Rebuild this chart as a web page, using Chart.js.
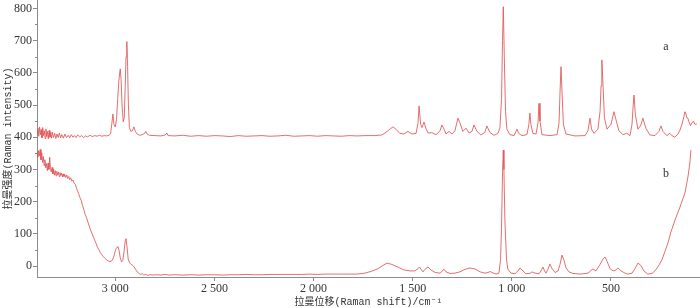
<!DOCTYPE html>
<html lang="zh">

<head>
  <meta charset="UTF-8">
  <script src="https://cdn.jsdelivr.net/npm/chart.js@4.4.1/dist/chart.umd.min.js"></script>
  <title>Raman spectra</title>
  <style>
    body { margin: 0; background: #fff; }
  </style>
</head>

<body>
  <canvas id="myChart" width="700" height="308"></canvas>
  <script>
    // spectrum a: Raman shift (cm-1) and intensity
    const shiftA = [
      3395, 3390, 3386, 3382, 3378, 3374, 3370, 3366, 3362, 3358, 3354, 3350, 3346, 3342, 3338, 3334, 3330, 3326, 3322, 3318,
      3312, 3306, 3300, 3294, 3288, 3282, 3276, 3270, 3262, 3254, 3246, 3238, 3230, 3222, 3214, 3206, 3198, 3190, 3180, 3170,
      3160, 3150, 3140, 3128, 3116, 3104, 3092, 3080, 3068, 3056, 3044, 3032, 3024, 3018, 3012, 3007, 3000, 2994, 2988, 2982,
      2978, 2975, 2971, 2966, 2960, 2955, 2950, 2946, 2942, 2938, 2934, 2929, 2922, 2914, 2906, 2899, 2890, 2878, 2864, 2852,
      2846, 2840, 2828, 2800, 2770, 2748, 2740, 2734, 2700, 2660, 2620, 2580, 2540, 2500, 2460, 2420, 2380, 2340, 2300, 2260,
      2220, 2180, 2140, 2100, 2060, 2020, 1980, 1940, 1900, 1860, 1820, 1780, 1740, 1691, 1656, 1635, 1615, 1600, 1585, 1565,
      1545, 1524, 1504, 1483, 1473, 1468, 1460, 1453, 1443, 1432, 1422, 1403, 1382, 1362, 1353, 1342, 1332, 1317, 1302, 1287,
      1272, 1262, 1247, 1231, 1216, 1201, 1191, 1176, 1156, 1136, 1126, 1111, 1090, 1070, 1060, 1052, 1047, 1043, 1038, 1032,
      1025, 1010, 989, 979, 974, 966, 949, 924, 914, 909, 904, 894, 878, 868, 863, 858, 848, 808, 772, 762,
      757, 752, 747, 740, 727, 682, 631, 616, 606, 598, 586, 566, 555, 550, 546, 540, 533, 520, 500, 485,
      475, 460, 440, 420, 404, 394, 389, 384, 377, 364, 349, 339, 324, 304, 278, 258, 248, 238, 218, 203,
      193, 178, 162, 152, 142, 132, 127, 122, 117, 112, 107, 99, 92, 84, 77, 67
    ];
    const intensityA = [
      412, 428, 403, 432, 408, 424, 398, 430, 405, 420, 396, 426, 402, 418, 395, 421, 400, 414, 397, 416,
      399, 412, 396, 410, 399, 413, 398, 408, 397, 410, 399, 406, 398, 408, 400, 405, 399, 407, 401, 405,
      399, 404, 401, 406, 402, 405, 403, 406, 403, 405, 404, 406, 410, 440, 472, 440, 432, 455, 520, 575,
      600, 612, 580, 500, 448, 460, 560, 650, 697, 620, 500, 430, 418, 420, 432, 418, 410, 406, 408, 412,
      418, 410, 406, 405, 404, 407, 413, 405, 404, 406, 403, 405, 403, 405, 404, 402, 405, 403, 404, 405,
      403, 404, 406, 403, 404, 405, 403, 405, 404, 403, 405, 404, 405, 405, 407, 415, 425, 432, 425, 412,
      410, 418, 410, 412, 445, 497, 440, 430, 447, 425, 413, 414, 408, 420, 438, 425, 410, 418, 410, 420,
      459, 445, 418, 428, 413, 418, 438, 418, 407, 415, 435, 415, 406, 412, 430, 520, 700, 805, 650, 480,
      425, 408, 405, 418, 425, 412, 405, 408, 440, 475, 440, 412, 410, 445, 505, 450, 408, 405, 408, 445,
      540, 619, 540, 440, 410, 404, 405, 420, 459, 425, 412, 425, 480, 560, 640, 560, 460, 425, 440, 479,
      455, 420, 408, 412, 405, 440, 490, 531, 470, 425, 438, 459, 428, 407, 405, 418, 435, 418, 405, 412,
      405, 400, 410, 422, 440, 465, 479, 472, 460, 459, 448, 436, 444, 450, 440, 441
    ];

    // spectrum b
    const shiftB = [
      3395, 3391, 3387, 3383, 3379, 3375, 3371, 3367, 3363, 3359, 3355, 3351, 3347, 3343, 3339, 3335, 3331, 3327, 3323, 3319,
      3315, 3311, 3307, 3303, 3299, 3295, 3291, 3287, 3283, 3279, 3275, 3271, 3267, 3263, 3259, 3255, 3250, 3245, 3240, 3235,
      3230, 3225, 3220, 3214, 3208, 3202, 3196, 3190, 3185, 3178, 3172, 3166, 3159, 3152, 3145, 3138, 3132, 3125, 3117, 3109,
      3100, 3092, 3084, 3076, 3068, 3060, 3052, 3044, 3036, 3028, 3020, 3012, 3005, 2998, 2992, 2986, 2981, 2975, 2968, 2962,
      2956, 2950, 2946, 2941, 2935, 2928, 2920, 2912, 2905, 2898, 2890, 2882, 2874, 2864, 2856, 2846, 2836, 2826, 2810, 2790,
      2770, 2750, 2730, 2700, 2660, 2620, 2580, 2540, 2500, 2460, 2420, 2380, 2340, 2300, 2260, 2220, 2180, 2140, 2100, 2060,
      2020, 1980, 1940, 1900, 1860, 1820, 1781, 1741, 1706, 1675, 1650, 1630, 1605, 1575, 1545, 1514, 1489, 1473, 1466, 1458,
      1448, 1438, 1423, 1408, 1387, 1362, 1352, 1342, 1332, 1312, 1287, 1262, 1236, 1211, 1186, 1160, 1136, 1120, 1110, 1100,
      1080, 1065, 1057, 1052, 1047, 1043, 1040, 1035, 1027, 1020, 1004, 984, 969, 959, 949, 929, 909, 898, 883, 863,
      853, 843, 835, 828, 818, 808, 797, 782, 767, 757, 747, 737, 727, 712, 692, 656, 616, 591, 576, 555,
      540, 530, 520, 505, 490, 475, 465, 450, 429, 415, 394, 379, 364, 349, 334, 314, 293, 278, 263, 243,
      228, 213, 198, 177, 152, 127, 112, 102, 97
    ];
    const intensityB = [
      355, 338, 358, 342, 362, 330, 352, 322, 340, 312, 330, 305, 318, 296, 320, 300, 338, 302, 292, 306,
      286, 300, 282, 296, 280, 294, 283, 292, 278, 290, 281, 289, 277, 286, 278, 284, 275, 283, 272, 278,
      268, 274, 264, 267, 258, 254, 242, 232, 225, 212, 204, 190, 176, 160, 150, 136, 125, 112, 100, 88,
      74, 62, 52, 42, 35, 29, 24, 19, 16, 14, 15, 22, 35, 52, 58, 60, 48, 25, 13, 18,
      45, 78, 85, 60, 22, 10, 5, 2, -3, -10, -18, -22, -26, -24, -28, -26, -29, -27, -28, -27,
      -28, -26, -28, -27, -28, -27, -28, -27, -27, -28, -27, -27, -26, -27, -27, -26, -26, -26, -26, -26,
      -25, -26, -25, -25, -25, -25, -25, -22, -16, -8, 2, 9, 5, -3, -12, -15, -15, -8, -3, -10,
      -18, -10, -3, -12, -20, -22, -16, -10, -18, -23, -22, -18, -10, -6, -9, -18, -22, -20, -17, -20,
      -25, -22, 20, 120, 290, 360, 300, 140, 20, -10, -22, -24, -15, -6, -12, -24, -23, -18, -22, -24,
      -15, -3, -15, -22, -10, 6, -8, -20, -15, 5, 34, 18, -5, -18, -23, -25, -22, -9, -15, 5,
      22, 28, 15, -8, -15, -12, -6, -15, -22, -25, -22, -8, 9, 2, -15, -25, -23, -15, -2, 19,
      45, 71, 105, 143, 183, 227, 276, 320, 360
    ];

    const seriesNames = ['a', 'b'];
    const xTickValues = [3000, 2500, 2000, 1500, 1000, 500];
    const xTickLabels = ['3 000', '2 500', '2 000', '1 500', '1 000', '500'];
    const yTickValues = [0, 100, 200, 300, 400, 500, 600, 700, 800];
    const yMinorValues = [50, 150, 250, 350, 450, 550, 650, 750];

    const lineColor = 'rgba(225, 85, 85, 0.85)';
    const axisColor = '#8c8c8c';
    const textColor = '#333';
    const serif = '"Liberation Serif", "DejaVu Serif", serif';
    const titleFont = '"Liberation Mono", "Noto Sans CJK SC", monospace';

    const toPoints = (xs, ys) => xs.map((x, i) => ({ x: x, y: ys[i] }));

    // short minor ticks on y axis, and the a / b labels
    const extras = {
      id: 'extras',
      afterDraw(chart) {
        const ctx = chart.ctx;
        const y = chart.scales.y;
        const x = chart.scales.x;
        ctx.save();
        ctx.strokeStyle = axisColor;
        ctx.lineWidth = 1;
        yMinorValues.forEach(v => {
          const py = Math.round(y.getPixelForValue(v)) + 0.5;
          ctx.beginPath();
          ctx.moveTo(y.right - 2, py);
          ctx.lineTo(y.right, py);
          ctx.stroke();
        });
        ctx.fillStyle = textColor;
        ctx.font = '12px ' + serif;
        ctx.textAlign = 'center';
        ctx.textBaseline = 'middle';
        const labelAt = [[223, 680], [223, 286]];
        seriesNames.forEach((name, i) => {
          ctx.fillText(name, x.getPixelForValue(labelAt[i][0]), y.getPixelForValue(labelAt[i][1]));
        });
        ctx.restore();
      }
    };

    const ctx = document.getElementById('myChart');
    new Chart(ctx, {
      type: 'line',
      data: {
        datasets: [
          {
            label: seriesNames[0],
            data: toPoints(shiftA, intensityA),
            borderColor: lineColor,
            borderWidth: 1,
            pointRadius: 0,
            tension: 0
          },
          {
            label: seriesNames[1],
            data: toPoints(shiftB, intensityB),
            borderColor: lineColor,
            borderWidth: 1,
            pointRadius: 0,
            tension: 0
          }
        ]
      },
      plugins: [extras],
      options: {
        responsive: false,
        animation: false,
        parsing: false,
        layout: { padding: 0 },
        plugins: {
          legend: { display: false },
          tooltip: { enabled: false }
        },
        scales: {
          x: {
            type: 'linear',
            reverse: true,
            min: 51,
            max: 3395,
            afterBuildTicks: (scale) => {
              scale.ticks = xTickValues.map(v => ({ value: v }));
            },
            afterFit: (scale) => {
              scale.height = 31;
              scale.paddingLeft = 0;
              scale.paddingRight = 0;
            },
            grid: {
              drawOnChartArea: false,
              tickLength: 4,
              color: axisColor
            },
            border: { color: axisColor },
            ticks: {
              padding: 1,
              maxRotation: 0,
              color: textColor,
              font: { size: 12, family: serif },
              callback: (value) => xTickLabels[xTickValues.indexOf(value)]
            },
            title: {
              display: true,
              text: '拉曼位移(Raman shift)/cm⁻¹',
              color: textColor,
              padding: { top: 0, bottom: 0 },
              font: { size: 10, family: titleFont }
            }
          },
          y: {
            min: -34,
            max: 826,
            afterBuildTicks: (scale) => {
              scale.ticks = yTickValues.map(v => ({ value: v }));
            },
            afterFit: (scale) => {
              scale.width = 37;
              scale.paddingTop = 0;
              scale.paddingBottom = 0;
            },
            grid: {
              drawOnChartArea: false,
              tickLength: 4,
              color: axisColor
            },
            border: { color: axisColor },
            ticks: {
              padding: 1,
              color: textColor,
              font: { size: 12, family: serif }
            },
            title: {
              display: true,
              text: '拉曼强度(Raman intensity)',
              color: textColor,
              padding: { top: 2, bottom: 0 },
              font: { size: 10, family: titleFont }
            }
          }
        }
      }
    })
  </script>
</body>

</html>
